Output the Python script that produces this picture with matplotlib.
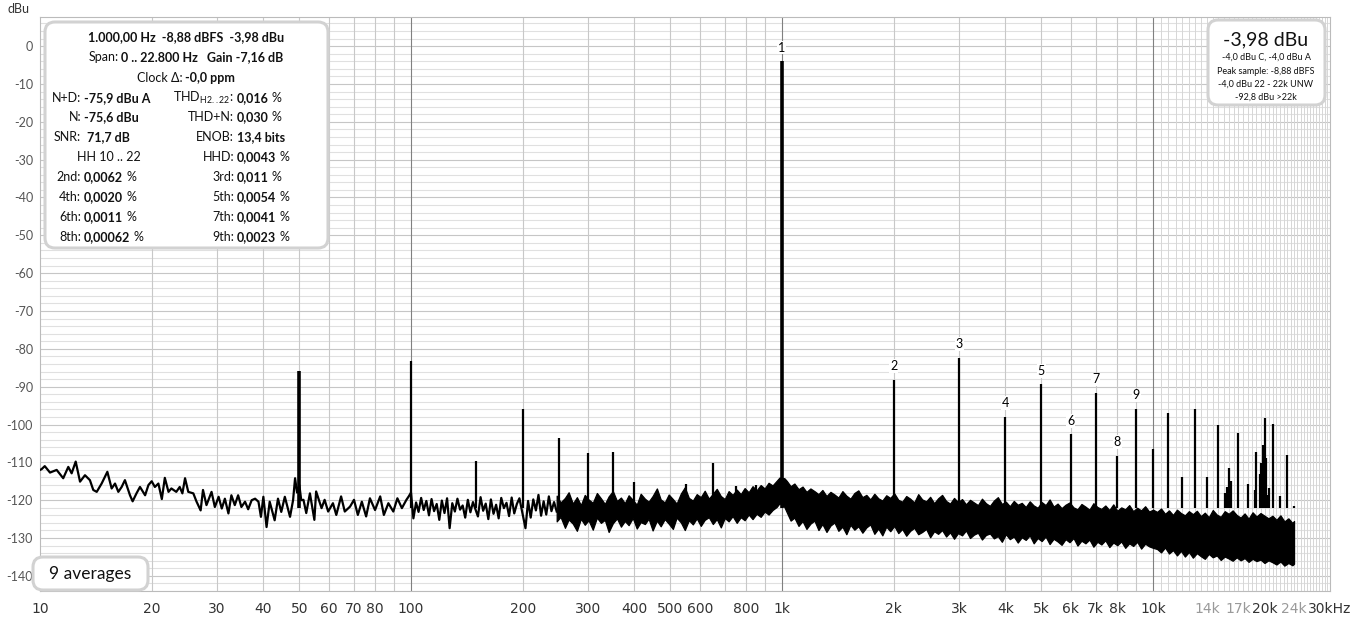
import matplotlib
matplotlib.use('Agg')
import matplotlib.pyplot as plt
from matplotlib.patches import FancyBboxPatch
from matplotlib.transforms import IdentityTransform

W, H = 1350, 619
FONT = ['Lato', 'DejaVu Sans']
NARROW = ['Liberation Sans Narrow', 'DejaVu Sans']

# low frequency part of the spectrum, drawn as a line (Hz, dBu)
low_f = [10.0, 10.1, 10.3, 10.64, 11.09, 11.55, 11.92, 12.17, 12.48, 12.82, 13.22, 13.63,
         13.92, 14.22, 14.66, 15.19, 15.6, 15.93, 16.26, 16.6, 16.94, 17.48, 17.77, 18.2,
         18.6, 19.2, 19.6, 20.0, 20.4, 20.85, 21.3, 21.7, 22.2, 22.6, 23.3, 23.8, 24.2,
         24.6, 25.1, 25.9, 26.4, 27.1, 27.5, 28.1, 29.0, 29.6, 30.3, 30.9, 31.5, 32.2,
         32.8, 33.5, 34.2, 34.9, 35.7, 36.4, 37.2, 38.0, 38.8, 39.4, 40.0, 40.8, 41.6,
         42.9, 43.8, 44.7, 45.7, 47.2, 48.1, 48.7, 49.3, 50.0, 50.6, 51.3, 52.2, 53.4,
         54.9, 55.5, 57.4, 58.5, 59.8, 61.6, 62.9, 64.8, 66.3, 68.5, 70.2, 71.9, 73.7,
         75.7, 77.5, 80.0, 82.6, 84.5, 86.9, 89.6, 91.9, 94.5, 97.2, 98.6, 100.0,
         101.5, 103.2, 104.8, 106.5, 108.2, 110.0, 111.8, 113.6, 115.4, 117.3,
         119.2, 121.1, 123.1, 125.1, 127.1, 129.2, 131.3, 133.4, 135.6, 137.8,
         140.0, 142.3, 144.6, 146.9, 151.5, 154.0, 156.5, 159.0, 161.6, 164.2,
         166.9, 169.6, 172.3, 175.1, 178.0, 180.9, 183.8, 186.8, 189.8, 192.9,
         196.0, 203.5, 206.8, 210.2, 213.6, 217.1, 220.6, 224.2, 227.8, 231.5,
         235.3, 239.1, 243.0, 247.0]
low_db = [-112.0, -111.8, -111.0, -112.7, -112.0, -114.2, -111.2, -112.9, -109.8, -115.1,
          -113.4, -114.7, -117.3, -117.8, -115.6, -112.5, -116.9, -115.6, -117.8, -116.5,
          -114.7, -118.7, -120.3, -118.2, -116.5, -118.7, -116.0, -115.0, -116.5, -115.6,
          -119.7, -114.1, -117.8, -116.9, -117.8, -116.5, -118.2, -114.2, -117.8, -118.2,
          -120.3, -122.7, -117.3, -121.3, -117.8, -121.8, -119.1, -122.2, -119.6, -123.5,
          -118.7, -121.3, -118.7, -121.8, -120.4, -122.4, -120.0, -119.6, -120.4, -124.4,
          -119.1, -127.1, -120.4, -125.3, -119.6, -123.1, -119.1, -124.4, -120.0, -114.2,
          -118.0, -116.0, -120.0, -119.9, -123.4, -118.2, -125.2, -117.7, -122.1, -119.9,
          -123.0, -120.8, -123.9, -119.0, -123.0, -121.7, -119.9, -123.9, -120.4, -124.3,
          -119.5, -122.6, -119.0, -123.9, -120.8, -123.0, -119.5, -122.1, -119.9, -119.0,
          -118.0,
          -124.8, -120.6, -123.1, -119.4, -122.6, -120.2, -124.0, -119.7, -122.9, -121.0,
          -125.2, -120.1, -123.4, -119.5, -127.4, -120.8, -123.0, -119.6, -122.5, -121.4,
          -124.6, -119.9, -123.2, -120.5, -124.3, -119.2, -122.8, -120.9, -125.0, -119.8,
          -123.6, -121.2, -124.8, -119.4, -122.1, -120.7, -124.2, -119.3, -123.5, -121.0,
          -119.5, -127.4, -120.2, -124.6, -119.8, -122.7, -118.6, -124.1, -120.3, -123.8,
          -119.0, -122.9, -120.5, -123.0]

# dense noise floor above 250 Hz: upper and lower edge of the band
band_f = [247, 253, 260, 266, 273, 280, 287, 294, 301, 309, 317, 325, 333, 341, 350, 359,
          368, 377, 386, 396, 406, 416, 427, 437, 448, 460, 471, 483, 495, 508, 520, 534,
          547, 561, 575, 589, 604, 619, 635, 651, 667, 684, 701, 718, 736, 755, 774, 793,
          813, 833, 854, 876, 898, 920, 943, 967, 985,
          1015, 1030, 1055, 1080, 1108, 1136, 1164, 1193, 1223, 1254, 1285, 1318, 1351,
          1385, 1419, 1455, 1491, 1529, 1567, 1606, 1647, 1688, 1730, 1774, 1818, 1864,
          1910, 1958, 2007, 2058, 2109, 2162, 2216, 2272, 2329, 2387, 2447, 2508, 2571,
          2635, 2701, 2769, 2838, 2909, 2982, 3057, 3133, 3212, 3292, 3374, 3459, 3545,
          3634, 3725, 3818, 3914, 4012, 4112, 4215, 4320, 4428, 4539, 4653, 4769, 4888,
          5011, 5136, 5264, 5396, 5531, 5670, 5811, 5957, 6106, 6258, 6415, 6575, 6740,
          6908, 7081, 7258, 7440, 7626, 7816, 8012, 8212, 8417, 8628, 8843, 9065, 9291,
          9524, 9762, 10006,
          10256, 10513, 10776, 11045, 11321, 11604, 11894, 12191, 12496, 12809, 13129,
          13457, 13793, 14138, 14492, 14854, 15225, 15606, 15996, 16396, 16806, 17226,
          17657, 18098, 18551, 19014, 19490, 19977, 20477, 20989, 21513, 22051, 22603,
          23168, 23747, 24000]
band_hi = [-118.8, -120.6, -119.4, -117.9, -120.9, -119.2, -121.3, -118.6, -119.8, -120.7,
           -118.1, -119.5, -121.0, -119.0, -117.6, -120.2, -119.3, -120.8, -118.7, -119.9,
           -121.2, -118.3, -119.6, -120.4, -118.9, -116.9, -119.8, -120.6, -118.5, -119.7,
           -120.9, -118.2, -116.6, -119.4, -120.1, -118.4, -119.2, -117.5, -119.6, -118.3,
           -117.0, -118.9, -119.7, -117.6, -118.6, -117.2, -118.4, -116.8, -117.9, -116.3,
           -117.4, -116.0, -116.9, -115.4, -116.1, -114.9, -114.0,
           -114.2, -114.9, -116.3, -115.6, -117.1, -116.4, -117.8, -116.9, -117.6, -118.4,
           -117.3, -118.9, -117.8, -118.5, -119.3, -117.6, -118.8, -119.6, -118.1, -117.4,
           -119.2, -118.6, -119.8, -118.3, -119.5, -120.1, -118.7, -119.4, -118.2, -119.9,
           -120.4, -118.9, -119.6, -120.6, -118.4, -119.8, -120.3, -119.1, -120.8, -119.5,
           -118.6, -120.2, -120.9, -119.4, -120.5, -119.7, -121.1, -119.9, -120.6, -121.3,
           -119.6, -120.8, -121.5, -120.1, -119.2, -121.0, -120.4, -121.6, -120.2, -121.2,
           -120.7, -121.8, -120.3, -121.4, -122.0, -120.5, -121.3, -119.8, -121.7, -120.9,
           -122.1, -121.2, -120.6, -121.9, -122.4, -121.0, -121.7, -122.5, -120.8, -121.8,
           -122.3, -121.4, -122.6, -121.1, -122.8, -121.9, -122.4, -121.3, -122.9, -122.0,
           -122.7, -121.6, -123.0, -122.5,
           -123.1, -122.2, -123.6, -122.7, -123.9, -122.5, -123.4, -124.0, -122.9, -123.7,
           -122.8, -124.2, -123.3, -124.5, -122.6, -123.8, -124.4, -122.9, -123.6, -122.7,
           -123.9, -124.6, -123.5, -124.9, -123.2, -124.3, -123.4, -124.1, -124.8, -124.1,
           -125.2, -124.0, -125.6, -124.8, -126.0, -125.5]
band_lo = [-125.6, -124.4, -127.3, -125.1, -126.2, -128.1, -124.9, -126.5, -125.3, -127.8,
           -124.6, -126.0, -125.2, -128.4, -126.1, -124.8, -127.0, -125.5, -126.6, -124.7,
           -127.5, -125.8, -126.3, -124.9, -128.0, -125.4, -126.9, -125.0, -126.2, -127.6,
           -124.6, -125.9, -127.9, -125.3, -126.4, -124.8, -126.8, -125.2, -124.5, -126.3,
           -125.0, -127.2, -124.7, -125.6, -124.2, -126.0, -124.5, -125.3, -123.8, -125.0,
           -123.6, -124.4, -123.0, -123.8, -122.6, -121.8, -120.8,
           -121.8, -123.2, -125.4, -124.6, -126.8, -125.5, -127.6, -126.2, -125.4, -127.9,
           -126.3, -128.4, -126.7, -125.9, -128.1, -127.0, -129.0, -126.5, -127.8, -126.9,
           -128.6, -127.2, -126.4, -128.9, -127.5, -129.3, -127.0, -128.2, -126.8, -128.7,
           -127.6, -129.4, -128.1, -127.3, -129.0, -128.4, -127.6, -129.8, -128.2, -128.9,
           -127.9, -129.6, -128.5, -130.2, -128.7, -129.3, -128.0, -130.0, -129.1, -128.6,
           -130.4, -129.2, -128.8, -130.1, -129.5, -131.0, -129.0, -130.3, -129.6, -131.2,
           -129.8, -130.5, -129.3, -131.4, -130.0, -130.8, -129.6, -131.6, -130.2, -130.9,
           -131.8, -130.3, -131.1, -130.0, -132.0, -130.7, -131.4, -130.4, -132.3, -131.0,
           -131.7, -130.6, -132.4, -131.2, -131.9, -130.9, -132.6, -131.4, -132.1, -131.0,
           -132.8, -131.5, -132.2, -132.6,
           -132.9, -133.8, -132.5, -134.1, -133.2, -134.6, -133.4, -134.9, -133.7, -135.2,
           -134.0, -134.8, -135.5, -134.2, -135.1, -134.6, -135.8, -134.9, -135.4, -136.0,
           -135.1, -135.9, -135.3, -136.3, -135.5, -136.1, -135.7, -136.6, -135.9, -136.4,
           -137.0, -136.2, -137.3, -136.6, -137.2, -136.8]

# discrete tones (Hz, peak dBu)
spike_f = [50, 100, 150, 200, 250, 300, 350, 400, 550, 650, 750, 850, 1000,
           2000, 3000, 4000, 5000, 6000, 7000, 8000, 9000, 10000, 11000, 12000, 13000,
           14000, 15000, 15600, 15800, 16000, 16250, 17000, 18000, 18800, 19000, 19400,
           19600, 19750, 20000, 20200, 20400, 20600, 21000, 22000, 23000, 24000]
spike_db = [-85.8, -83.2, -109.7, -95.9, -103.5, -107.6, -107.3, -115.2, -115.8, -110.1,
            -116.3, -116.0, -3.98,
            -88.2, -82.3, -97.9, -89.4, -102.6, -91.7, -108.3, -95.9, -106.5, -97.0,
            -113.8, -96.0, -113.9, -100.1, -118.0, -116.5, -111.5, -114.8, -102.3, -115.8,
            -117.3, -107.2, -113.0, -110.2, -105.4, -98.3, -108.9, -118.6, -116.8, -99.8,
            -118.9, -108.0, -121.5]
harmonics = [1, 2, 3, 4, 5, 6, 7, 8, 9]

y_ticks = [0, -10, -20, -30, -40, -50, -60, -70, -80, -90, -100, -110, -120, -130, -140]
x_ticks = [10, 20, 30, 40, 50, 60, 70, 80, 100, 200, 300, 400, 500, 600, 800, 1000,
           2000, 3000, 4000, 5000, 6000, 7000, 8000, 10000, 14000, 17000, 20000, 24000, 30000]
x_labels = ['10', '20', '30', '40', '50', '60', '70', '80', '100', '200', '300', '400',
            '500', '600', '800', '1k', '2k', '3k', '4k', '5k', '6k', '7k', '8k', '10k',
            '14k', '17k', '20k', '24k', '30kHz']
faint_labels = ['14k', '17k', '24k']

info_head = [[('1.000,00 Hz  -8,88 dBFS  -3,98 dBu', True)],
             [('Span:', False), ('0 .. 22.800 Hz   Gain -7,16 dB', True)],
             [('Clock \u0394:', False), ('-0,0 ppm', True)]]
info_left = [('N+D:', '-75,9 dBu A', ''), ('N:', '-75,6 dBu', ''), ('SNR:', ' 71,7 dB', ''),
             None, ('2nd:', '0,0062', '%'), ('4th:', '0,0020', '%'),
             ('6th:', '0,0011', '%'), ('8th:', '0,00062', '%')]
info_right = [(r'THD$_{\mathregular{H2..22}}$:', '0,016', '%'), ('THD+N:', '0,030', '%'),
              ('ENOB:', '13,4 bits', ''), ('HHD:', '0,0043', '%'), ('3rd:', '0,011', '%'),
              ('5th:', '0,0054', '%'), ('7th:', '0,0041', '%'), ('9th:', '0,0023', '%')]
level_main = '-3,98 dBu'
level_lines = ['-4,0 dBu C, -4,0 dBu A', 'Peak sample: -8,88 dBFS',
               '-4,0 dBu 22 - 22k UNW', '-92,8 dBu >22k']

fig = plt.figure(figsize=(W / 100, H / 100), dpi=100)
ax = fig.add_axes([40 / W, (H - 591) / H, (1330 - 40) / W, (591 - 17) / H])
ax.set_xscale('log')
ax.set_xlim(10, 30000)
ax.set_ylim(-144, 7.7)

# grid: horizontal first so the darker decade lines stay solid
for v in range(-144, 8, 2):
    ax.axhline(v, color='#c6c6c6' if v % 10 == 0 else '#e0e0e0', lw=0.8, zorder=0)
for v in range(10500, 30000, 500):
    ax.axvline(v, color='#d6d6d6', lw=0.7, zorder=0)
for d in (10, 100, 1000):
    for k in range(2, 10):
        ax.axvline(k * d, color='#c8c8c8', lw=0.8, zorder=0)
for v in (100, 1000, 10000):
    ax.axvline(v, color='#808080', lw=0.8, zorder=0.5)

for s in ax.spines.values():
    s.set_color('#bbbbbb')

ax.plot(low_f, low_db, color='black', lw=1.6, zorder=3)
ax.fill_between(band_f, band_lo, band_hi, color='black', lw=0.9, zorder=3)
widths = [2.6 if f in (50, 1000) else 1.6 for f in spike_f]
ax.vlines(spike_f, -122, spike_db, color='black', linewidths=widths, zorder=3)

for n in harmonics:
    top = spike_db[spike_f.index(n * 1000)]
    ax.text(n * 1000, top + 3.6, str(n), ha='center', va='center', fontsize=9,
            family=FONT, zorder=4,
            bbox=dict(facecolor='white', edgecolor='none', pad=0.6))

ax.set_yticks(y_ticks, [str(v) for v in y_ticks])
ax.set_xticks(x_ticks, x_labels)
ax.minorticks_off()
ax.tick_params(axis='both', length=0)
ax.tick_params(axis='y', pad=5, labelsize=9, labelcolor='#555555')
ax.tick_params(axis='x', pad=8, labelsize=10, labelcolor='#333333')
for t in ax.get_yticklabels():
    t.set_family(FONT)
for t in ax.get_xticklabels():
    t.set_family(NARROW)
    if t.get_text() in faint_labels:
        t.set_color('#9a9a9a')

fig.text(18 / W, 1 - 9 / H, 'dBu', fontsize=9, family=FONT, color='#333333',
         ha='center', va='center')


def box(x0, y0, x1, y1):
    p = FancyBboxPatch((x0, H - y1), x1 - x0, y1 - y0, transform=IdentityTransform(),
                       boxstyle='round,pad=0,rounding_size=10', facecolor='white',
                       edgecolor='#d2d2d2', lw=2.2, zorder=5)
    fig.add_artist(p)


def put(s, x, y, bold=False, ha='left', size=9, color='#111111'):
    return fig.text(x / W, 1 - y / H, s, fontsize=size, family=FONT, ha=ha, va='center',
                    fontweight='bold' if bold else 'normal', color=color, zorder=6)


def rich(parts, x, y, size=9):
    r = fig.canvas.get_renderer()
    objs = [put(s, 0, y, b, size=size) for s, b in parts]
    ws = [t.get_window_extent(r).width for t in objs]
    gap = 3
    x0 = x - (sum(ws) + gap * (len(ws) - 1)) / 2
    for t, w in zip(objs, ws):
        t.set_x(x0 / W)
        x0 += w + gap


def row(item, xl, y):
    label, val, unit = item
    put(label, xl, y, ha='right')
    t = put(val, xl + 3, y, bold=True)
    if unit:
        w = t.get_window_extent(fig.canvas.get_renderer()).width
        put(unit, xl + 3 + w + 3, y)


# info box
box(45, 22, 328, 248)
head_y = [37, 57, 78]
for parts, y in zip(info_head, head_y):
    rich(parts, 186, y)
row_y = [98, 117, 137, 157, 177, 197, 217, 237]
for item, y in zip(info_left, row_y):
    if item is None:
        put('HH 10 .. 22', 109, y, ha='center')
    else:
        row(item, 81, y)
for item, y in zip(info_right, row_y):
    row(item, 234, y)

# level box
box(1208, 20, 1325, 105)
put(level_main, 1266, 40, ha='center', size=14)
for s, y in zip(level_lines, [57, 71, 84, 97]):
    put(s, 1266, y, ha='center', size=6.5)

# averages box
box(33, 557, 148, 590)
put('9 averages', 90, 574, ha='center', size=12.5)

fig.savefig('out.png', dpi=100)
